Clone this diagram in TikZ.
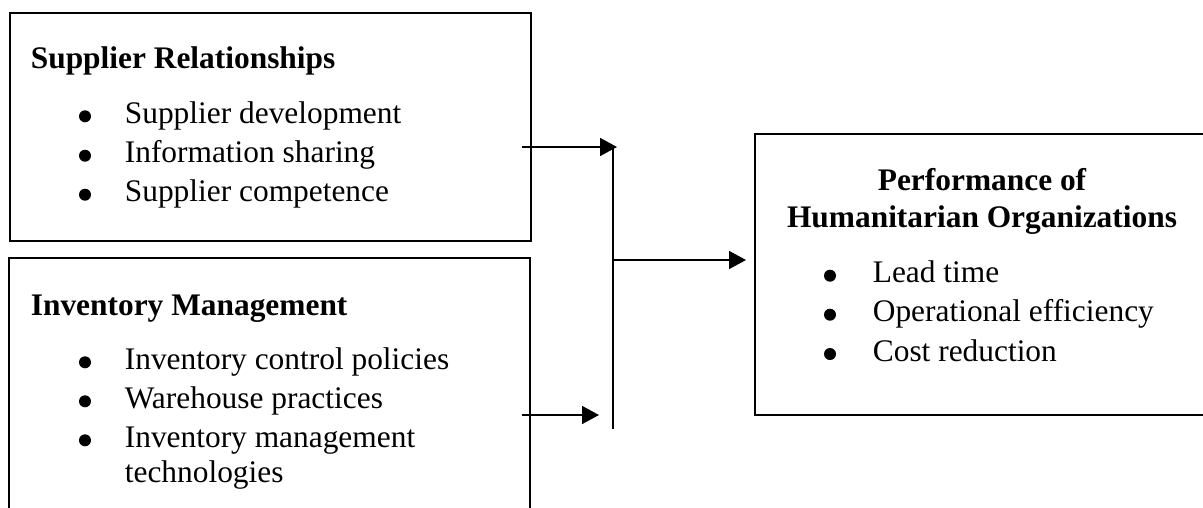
\documentclass[tikz,border=0pt]{standalone}
\usepackage{fontspec}
\setmainfont{Liberation Serif}
\usetikzlibrary{arrows.meta}
\begin{document}
\begin{tikzpicture}[x=1pt,y=-1pt, line width=1.7pt,
 txt/.style={anchor=base west, inner sep=0pt, font=\fontsize{31.4}{38}\selectfont},
 hd/.style={anchor=base west, inner sep=0pt, font=\fontsize{31.4}{38}\selectfont\bfseries},
 hdc/.style={anchor=base, inner sep=0pt, font=\fontsize{31.4}{38}\selectfont\bfseries},
 bul/.style={circle, fill=black, draw=none, inner sep=0pt, minimum size=12pt},
 arr/.style={-{Triangle[length=17pt,width=18pt]}}]
\useasboundingbox (0,0) rectangle (1203,507);
% boxes
\node[draw, anchor=north west, minimum width=521pt, minimum height=228pt, inner sep=0pt] (sr) at (9,12) {};
\coordinate (im1) at (9,512);
\coordinate (im2) at (9,258);
\coordinate (im3) at (530,258);
\coordinate (im4) at (530,512);
\draw (im1) -- (im2) -- (im3) -- (im4);
\coordinate (pf1) at (1208,134);
\coordinate (pf2) at (755,134);
\coordinate (pf3) at (755,415);
\coordinate (pf4) at (1208,415);
\draw (pf1) -- (pf2) -- (pf3) -- (pf4);
% box 1 text
\node[hd] (srh) at (30,68.3) {Supplier Relationships};
\node[bul] (sb1) at (85,116.3) {};
\node[bul] (sb2) at (85,155.7) {};
\node[bul] (sb3) at (85,194.7) {};
\node[txt] (st1) at (124,123.3) {Supplier development};
\node[txt] (st2) at (124,162.7) {Information sharing};
\node[txt] (st3) at (124,201.7) {Supplier competence};
% box 2 text
\node[hd] (imh) at (30,315) {Inventory Management};
\node[bul] (ib1) at (85,362.3) {};
\node[bul] (ib2) at (85,401.3) {};
\node[bul] (ib3) at (85,440.3) {};
\node[txt] (it1) at (124,369.3) {Inventory control policies};
\node[txt] (it2) at (124,408.3) {Warehouse practices};
\node[txt] (it3) at (124,447.3) {Inventory management};
\node[txt] (it4) at (124,482.7) {technologies};
% box 3 text
\node[hdc] (ph1) at (982,190) {Performance of};
\node[hdc] (ph2) at (982,227) {Humanitarian Organizations};
\node[bul] (pb1) at (830,275.7) {};
\node[bul] (pb2) at (830,314.7) {};
\node[bul] (pb3) at (830,354) {};
\node[txt] (pt1) at (872,282.7) {Lead time};
\node[txt] (pt2) at (872,321.7) {Operational efficiency};
\node[txt] (pt3) at (872,361) {Cost reduction};
% connectors
\coordinate (a1s) at (522,147);
\coordinate (a1e) at (617,147);
\coordinate (a2s) at (522,415);
\coordinate (a2e) at (599,415);
\coordinate (vt) at (613,147);
\coordinate (vb) at (613,429);
\coordinate (a3s) at (613,260);
\coordinate (a3e) at (746,260);
\draw[arr] (a1s) -- (a1e);
\draw[arr] (a2s) -- (a2e);
\draw (vt) -- (vb);
\draw[arr] (a3s) -- (a3e);
\end{tikzpicture}
\end{document}
